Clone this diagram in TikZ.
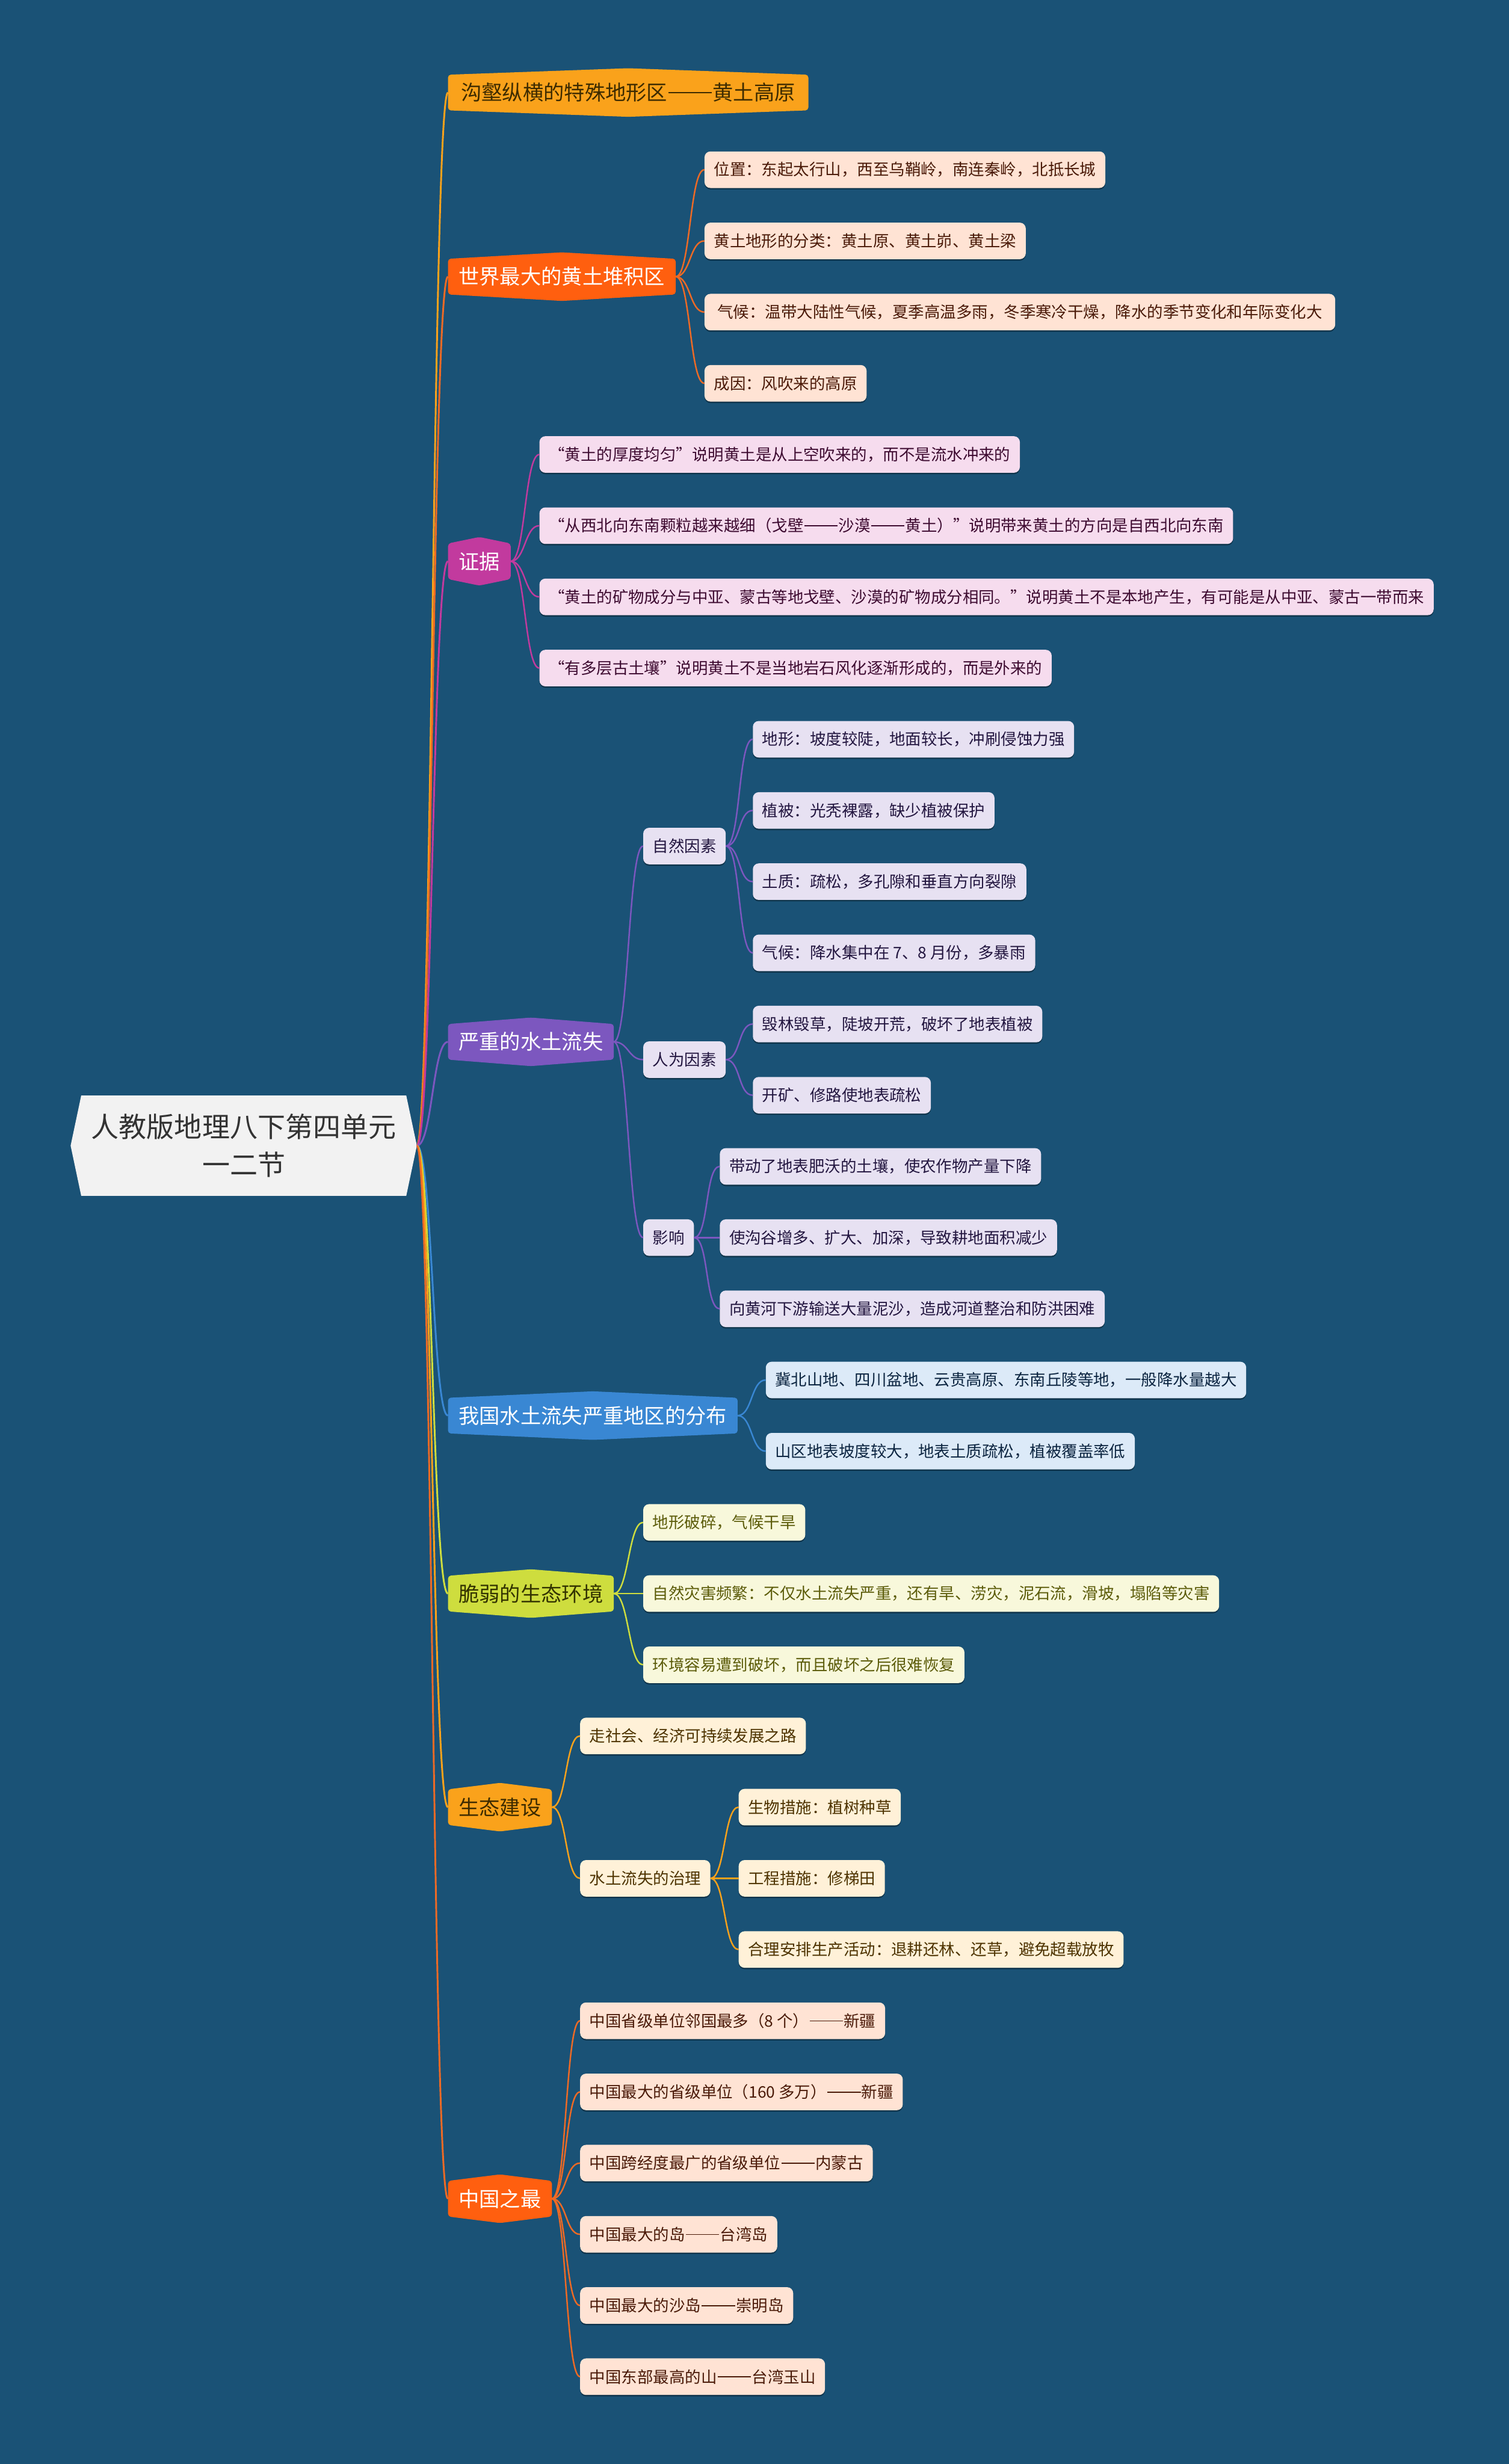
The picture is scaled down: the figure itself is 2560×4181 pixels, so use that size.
\documentclass[tikz,border=0pt]{standalone}
\usepackage{fontspec}
\setmainfont{Noto Sans CJK SC}
\usetikzlibrary{calc,backgrounds,shadows}
\definecolor{bgc}{HTML}{1A5276}
\definecolor{rootf}{HTML}{F2F2F2}
\definecolor{roott}{HTML}{333333}
% branch colours
\definecolor{amb}{HTML}{FAA21B}
\definecolor{ambt}{HTML}{3D2B00}
\definecolor{dor}{HTML}{FF5F0F}
\definecolor{dore}{HTML}{EE6A25}
\definecolor{mag}{HTML}{C23A9E}
\definecolor{pur}{HTML}{7C57BF}
\definecolor{blu}{HTML}{3987D3}
\definecolor{ylg}{HTML}{CEDD3E}
\definecolor{ylgt}{HTML}{333300}
% leaf colours
\definecolor{peachf}{HTML}{FFE3D4}
\definecolor{peacht}{HTML}{4A1A08}
\definecolor{pinkf}{HTML}{F6DCEE}
\definecolor{pinkt}{HTML}{3D0A30}
\definecolor{lavf}{HTML}{E7E1F2}
\definecolor{lavt}{HTML}{231640}
\definecolor{lbluf}{HTML}{DCEAF8}
\definecolor{lblut}{HTML}{0B2440}
\definecolor{lyelf}{HTML}{F8F8DB}
\definecolor{lyelt}{HTML}{5C5C0A}
\definecolor{creamf}{HTML}{FFF1D8}
\definecolor{creamt}{HTML}{4D3300}

\newcommand\dsh{\kern0.05em\rule[0.34em]{2.1em}{0.06em}\kern0.05em}

\tikzset{
  leaf/.style={rectangle, rounded corners=10pt, minimum height=62pt, inner xsep=16pt, inner ysep=0pt, anchor=west,
    font=\fontsize{27}{32}\selectfont,
    drop shadow={shadow xshift=0pt, shadow yshift=-2.5pt, opacity=0.35, fill=black}},
  lone/.style={rectangle, minimum height=82pt, inner xsep=18pt, inner ysep=0pt, anchor=west,
    font=\fontsize{35}{40}\selectfont},
  lpeach/.style={leaf, fill=peachf, text=peacht},
  lpink/.style={leaf, fill=pinkf, text=pinkt},
  llav/.style={leaf, fill=lavf, text=lavt},
  lblue/.style={leaf, fill=lbluf, text=lblut},
  lyel/.style={leaf, fill=lyelf, text=lyelt},
  lcream/.style={leaf, fill=creamf, text=creamt},
  redge/.style={line width=3pt},
  cedge/.style={line width=2.5pt},
}
\newcommand\hexfill[2]{\begin{scope}[on background layer]\fill[#2, rounded corners=5pt] ($(#1.north west)+(0,11)$) -- (#1.north) -- ($(#1.north east)+(0,11)$) -- ($(#1.south east)+(0,-11)$) -- (#1.south) -- ($(#1.south west)+(0,-11)$) -- cycle;\end{scope}}
\newcommand\cnx[3]{\draw[cedge,#1] (#2.east) .. controls +(25,0) and +(-25,0) .. (#3.west);}
\newcommand\rcnx[2]{\draw[redge,#1] (rootR) .. controls +(26,0) and +(-26,0) .. (#2.west);}

\begin{document}
\begin{tikzpicture}[x=1pt,y=-1pt]
\useasboundingbox (0,0) rectangle (2560,4181);
\begin{scope}[on background layer]
\fill[bgc] (0,0) rectangle (2560,4181);
\end{scope}

% root
\node[rectangle, minimum width=551pt, minimum height=170pt, inner sep=0pt, align=center, text=roott,
  font=\fontsize{47}{64}\selectfont] (root) at (413.5,1944) {人教版地理八下第四单元\\一二节};
\begin{scope}[on background layer]
\fill[rootf] (root.north west) -- (root.north east) -- ($(root.east)+(18,0)$) -- (root.south east) -- (root.south west) -- ($(root.west)+(-18,0)$) -- cycle;
\end{scope}
\coordinate (rootR) at ($(root.east)+(18,0)$);

% level 1
\node[lone, text=ambt, inner xsep=22pt] (b1) at (760,157) {沟壑纵横的特殊地形区\dsh 黄土高原};
\hexfill{b1}{amb}
\node[lone, text=white] (b2) at (760,469.4) {世界最大的黄土堆积区};
\hexfill{b2}{dor}
\node[lone, text=white] (b3) at (760,952.4) {证据};
\hexfill{b3}{mag}
\node[lone, text=white] (b4) at (760,1767.8) {严重的水土流失};
\hexfill{b4}{pur}
\node[lone, text=white] (b5) at (760,2402) {我国水土流失严重地区的分布};
\hexfill{b5}{blu}
\node[lone, text=ylgt] (b6) at (760,2704) {脆弱的生态环境};
\hexfill{b6}{ylg}
\node[lone, text=ambt] (b7) at (760,3066.4) {生态建设};
\hexfill{b7}{amb}
\node[lone, text=white] (b8) at (760,3730.8) {中国之最};
\hexfill{b8}{dor}

% branch 2
\node[lpeach] (b2a) at (1195,288) {位置：东起太行山，西至乌鞘岭，南连秦岭，北抵长城};
\node[lpeach] (b2b) at (1195,408.8) {黄土地形的分类：黄土原、黄土峁、黄土梁};
\node[lpeach, inner xsep=22pt] (b2c) at (1195,529.6) {气候：温带大陆性气候，夏季高温多雨，冬季寒冷干燥，降水的季节变化和年际变化大};
\node[lpeach] (b2d) at (1195,650.4) {成因：风吹来的高原};

% branch 3
\node[lpink] (b3a) at (915,771.2) {“黄土的厚度均匀”说明黄土是从上空吹来的，而不是流水冲来的};
\node[lpink] (b3b) at (915,892) {“从西北向东南颗粒越来越细（戈壁\dsh 沙漠\dsh 黄土）”说明带来黄土的方向是自西北向东南};
\node[lpink] (b3c) at (915,1012.8) {“黄土的矿物成分与中亚、蒙古等地戈壁、沙漠的矿物成分相同。”说明黄土不是本地产生，有可能是从中亚、蒙古一带而来};
\node[lpink] (b3d) at (915,1133.6) {“有多层古土壤”说明黄土不是当地岩石风化逐渐形成的，而是外来的};

% branch 4
\node[llav] (b4a) at (1091,1435.6) {自然因素};
\node[llav] (b4a1) at (1277,1254.4) {地形：坡度较陡，地面较长，冲刷侵蚀力强};
\node[llav] (b4a2) at (1277,1375.2) {植被：光秃裸露，缺少植被保护};
\node[llav] (b4a3) at (1277,1496) {土质：疏松，多孔隙和垂直方向裂隙};
\node[llav] (b4a4) at (1277,1616.8) {气候：降水集中在 7、8 月份，多暴雨};
\node[llav] (b4b) at (1091,1798) {人为因素};
\node[llav] (b4b1) at (1277,1737.6) {毁林毁草，陡坡开荒，破坏了地表植被};
\node[llav] (b4b2) at (1277,1858.4) {开矿、修路使地表疏松};
\node[llav] (b4c) at (1091,2100) {影响};
\node[llav] (b4c1) at (1221,1979.2) {带动了地表肥沃的土壤，使农作物产量下降};
\node[llav] (b4c2) at (1221,2100) {使沟谷增多、扩大、加深，导致耕地面积减少};
\node[llav] (b4c3) at (1221,2220.8) {向黄河下游输送大量泥沙，造成河道整治和防洪困难};

% branch 5
\node[lblue] (b5a) at (1299,2341.6) {冀北山地、四川盆地、云贵高原、东南丘陵等地，一般降水量越大};
\node[lblue] (b5b) at (1299,2462.4) {山区地表坡度较大，地表土质疏松，植被覆盖率低};

% branch 6
\node[lyel] (b6a) at (1091,2583.2) {地形破碎，气候干旱};
\node[lyel] (b6b) at (1091,2704) {自然灾害频繁：不仅水土流失严重，还有旱、涝灾，泥石流，滑坡，塌陷等灾害};
\node[lyel] (b6c) at (1091,2824.8) {环境容易遭到破坏，而且破坏之后很难恢复};

% branch 7
\node[lcream] (b7a) at (984,2945.6) {走社会、经济可持续发展之路};
\node[lcream] (b7b) at (984,3187.2) {水土流失的治理};
\node[lcream] (b7b1) at (1253,3066.4) {生物措施：植树种草};
\node[lcream] (b7b2) at (1253,3187.2) {工程措施：修梯田};
\node[lcream] (b7b3) at (1253,3308) {合理安排生产活动：退耕还林、还草，避免超载放牧};

% branch 8
\node[lpeach] (b8a) at (984,3428.8) {中国省级单位邻国最多（8 个）\dsh 新疆};
\node[lpeach] (b8b) at (984,3549.6) {中国最大的省级单位（160 多万）\dsh 新疆};
\node[lpeach] (b8c) at (984,3670.4) {中国跨经度最广的省级单位\dsh 内蒙古};
\node[lpeach] (b8d) at (984,3791.2) {中国最大的岛\dsh 台湾岛};
\node[lpeach] (b8e) at (984,3912) {中国最大的沙岛\dsh 崇明岛};
\node[lpeach] (b8f) at (984,4032.8) {中国东部最高的山\dsh 台湾玉山};

% root connectors
\rcnx{amb}{b1}
\rcnx{dore}{b2}
\rcnx{mag}{b3}
\rcnx{pur}{b4}
\rcnx{blu}{b5}
\rcnx{ylg}{b6}
\rcnx{amb}{b7}
\rcnx{dore}{b8}

% child connectors
\foreach \c in {b2a,b2b,b2c,b2d} {\cnx{dore}{b2}{\c}}
\foreach \c in {b3a,b3b,b3c,b3d} {\cnx{mag}{b3}{\c}}
\foreach \c in {b4a,b4b,b4c} {\cnx{pur}{b4}{\c}}
\foreach \c in {b4a1,b4a2,b4a3,b4a4} {\cnx{pur}{b4a}{\c}}
\foreach \c in {b4b1,b4b2} {\cnx{pur}{b4b}{\c}}
\foreach \c in {b4c1,b4c2,b4c3} {\cnx{pur}{b4c}{\c}}
\foreach \c in {b5a,b5b} {\cnx{blu}{b5}{\c}}
\foreach \c in {b6a,b6b,b6c} {\cnx{ylg}{b6}{\c}}
\foreach \c in {b7a,b7b} {\cnx{amb}{b7}{\c}}
\foreach \c in {b7b1,b7b2,b7b3} {\cnx{amb}{b7b}{\c}}
\foreach \c in {b8a,b8b,b8c,b8d,b8e,b8f} {\cnx{dore}{b8}{\c}}
\end{tikzpicture}
\end{document}
